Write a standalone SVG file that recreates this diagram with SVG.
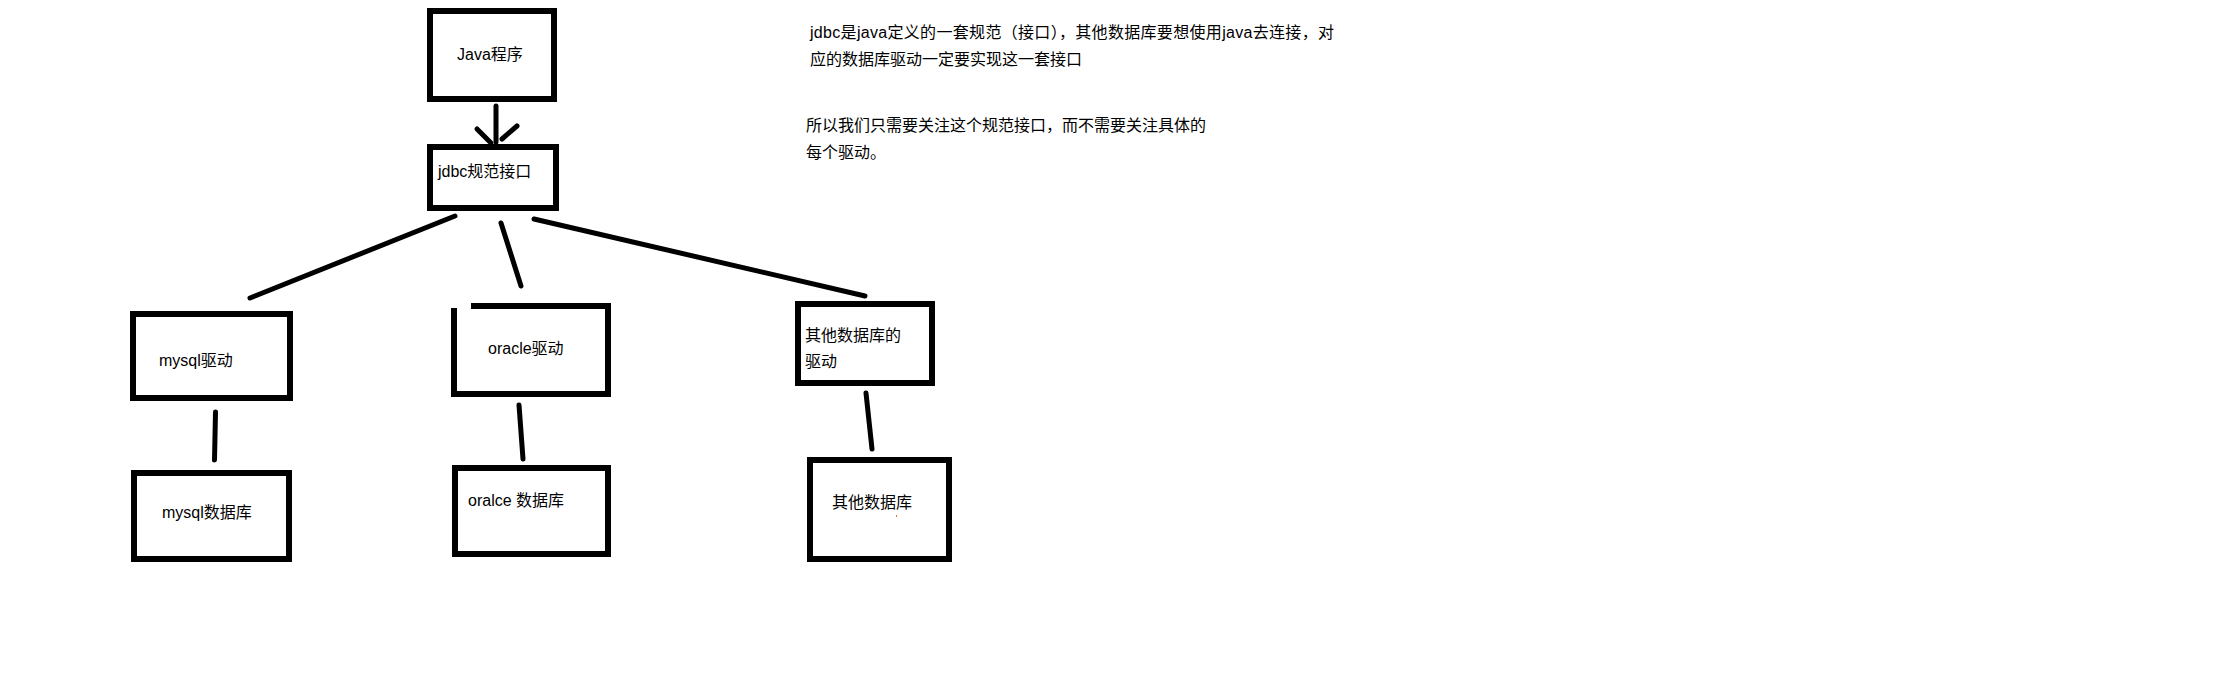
<svg xmlns="http://www.w3.org/2000/svg" width="2220" height="683" viewBox="0 0 2220 683">
<style>
.box{fill:none;stroke:#000;stroke-width:6;stroke-linejoin:miter;stroke-linecap:butt}
.ln{fill:none;stroke:#000;stroke-width:5;stroke-linecap:round}
text{font-family:"Liberation Sans","Noto Sans CJK SC",sans-serif;font-size:16px;fill:#000}
</style>
<rect width="2220" height="683" fill="#fff"/>
<g id="java">
<rect class="box" x="430" y="11" width="124" height="88"/>
<text x="457" y="60">Java程序</text>
</g>
<g id="jdbc">
<rect class="box" x="430" y="147" width="126" height="61"/>
<text x="438" y="177">jdbc规范接口</text>
</g>
<g id="mysql-driver">
<rect class="box" x="133" y="314" width="157" height="84"/>
<text x="159" y="366">mysql驱动</text>
</g>
<g id="mysql-db">
<rect class="box" x="134" y="473" width="155" height="86"/>
<text x="162" y="518">mysql数据库</text>
</g>
<g id="oracle-driver">
<path class="box" d="M471 306H608V394H454V308"/>
<text x="488" y="354">oracle驱动</text>
</g>
<g id="oracle-db">
<rect class="box" x="455" y="468" width="153" height="86"/>
<text x="468" y="506">oralce 数据库</text>
</g>
<g id="other-driver">
<rect class="box" x="798" y="304" width="134" height="79"/>
<text x="805" y="341">其他数据库的</text>
<text x="805" y="366.5">驱动</text>
</g>
<g id="other-db">
<rect class="box" x="810" y="460" width="139" height="99"/>
<text x="832" y="507.5">其他数据库</text>
<rect x="896" y="515" width="1" height="2" fill="#c0803a"/>
</g>
<g id="note">
<text x="810" y="38" textLength="524" lengthAdjust="spacing">jdbc是java定义的一套规范（接口），其他数据库要想使用java去连接，对</text>
<text x="810" y="64.5">应的数据库驱动一定要实现这一套接口</text>
<text x="806" y="131">所以我们只需要关注这个规范接口，而不需要关注具体的</text>
<text x="806" y="157.5">每个驱动。</text>
</g>
<g id="connectors">
<line class="ln" x1="496" y1="106" x2="496" y2="142"/>
<line class="ln" x1="477" y1="129" x2="491" y2="143"/>
<line class="ln" x1="517" y1="126" x2="502" y2="139"/>
<line class="ln" x1="455" y1="216" x2="250" y2="298"/>
<line class="ln" x1="501" y1="223" x2="521" y2="286"/>
<line class="ln" x1="534" y1="219" x2="865" y2="296"/>
<line class="ln" x1="215.5" y1="412" x2="214.5" y2="460"/>
<line class="ln" x1="519" y1="405" x2="523" y2="459"/>
<line class="ln" x1="866" y1="393" x2="872" y2="449"/>
</g>
</svg>
